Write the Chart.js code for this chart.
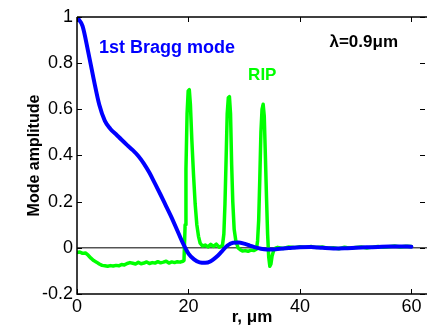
<!DOCTYPE html>
<html>
<head>
<meta charset="utf-8">
<script src="https://cdn.jsdelivr.net/npm/chart.js@4"></script>
<style>
body{margin:0;background:#fff;}
</style>
</head>
<body>
<canvas id="chart" width="427" height="326"></canvas>
<script>
// 1st Bragg mode (blue)
const braggR = [0, 1, 2, 3, 4, 5, 6, 7, 8, 9, 10, 11, 12, 13, 14, 15, 16, 17, 18, 19, 20, 21, 22, 23, 24, 25, 26, 27, 28, 29, 30, 31, 32, 33, 34, 35, 36, 38, 40, 42, 44, 46, 48, 50, 52, 54, 56, 58, 60];
const braggAmp = [1.0, 0.96, 0.85, 0.73, 0.62, 0.55, 0.515, 0.492, 0.468, 0.445, 0.423, 0.398, 0.365, 0.325, 0.278, 0.23, 0.18, 0.13, 0.075, 0.02, -0.025, -0.05, -0.063, -0.065, -0.058, -0.04, -0.015, 0.01, 0.022, 0.023, 0.018, 0.01, 0.002, -0.004, -0.007, -0.007, -0.005, -0.001, 0.003, 0.004, 0.0, -0.003, -0.002, 0.0, 0.002, 0.004, 0.006, 0.006, 0.005];

// RIP (green)
const ripR = [0, 0.5, 1, 1.5, 2, 2.5, 3, 3.5, 4, 4.5, 5, 5.5, 6, 6.5, 7, 7.5, 8, 8.5, 9, 9.5, 10, 10.5, 11, 11.5, 12, 12.5, 13, 13.5, 14, 14.5, 15, 15.5, 16, 16.5, 17, 17.5, 18, 18.5, 19, 19.2,
  19.4, 19.55, 19.75, 19.95, 20.15, 20.35, 20.6, 20.9, 21.2, 21.5, 21.8, 22.1, 22.5, 23, 23.5, 24, 24.5, 25, 25.5, 26.1,
  26.35, 26.55, 26.75, 26.95, 27.15, 27.35, 27.55, 27.75, 27.95, 28.2, 28.5, 28.9, 29.3, 29.7, 30.2, 30.7, 31.2, 31.7, 32.2,
  32.4, 32.6, 32.8, 33.0, 33.2, 33.4, 33.6, 33.8, 34.0, 34.2, 34.4, 34.6, 34.8, 35.0, 35.3, 35.7,
  36, 37, 38, 39, 40, 41, 42, 43, 44, 45, 46, 47, 48, 49, 50, 51, 52, 53, 54, 55, 56, 57, 58, 59, 60];
const ripAmp = [-0.020, -0.018, -0.024, -0.022, -0.032, -0.045, -0.055, -0.062, -0.070, -0.076, -0.078, -0.080, -0.077, -0.079, -0.076, -0.078, -0.072, -0.074, -0.068, -0.064, -0.067, -0.070, -0.063, -0.069, -0.066, -0.061, -0.068, -0.064, -0.066, -0.060, -0.065, -0.062, -0.058, -0.066, -0.061, -0.064, -0.060, -0.062, -0.058, -0.055,
  0.10, 0.34, 0.58, 0.68, 0.685, 0.62, 0.47, 0.32, 0.19, 0.10, 0.05, 0.02, 0.008, 0.012, 0.004, 0.015, 0.006, 0.016, 0.003, 0.01,
  0.06, 0.19, 0.38, 0.58, 0.65, 0.655, 0.58, 0.36, 0.2, 0.08, 0.03, 0.0, -0.008, -0.014, -0.012, -0.015, -0.010, -0.012, -0.006,
  0.03, 0.12, 0.3, 0.5, 0.6, 0.622, 0.57, 0.4, 0.22, 0.06, -0.04, -0.08, -0.07, -0.035, -0.01, 0.0,
  0.002, -0.003, 0.004, 0.001, 0.005, 0.002, 0.006, 0.001, 0.004, -0.002, 0.0, -0.004, 0.003, -0.002, 0.001, 0.004, -0.001, 0.003, 0.006, 0.002, 0.005, 0.008, 0.004, 0.007, 0.006];

// zero reference line
const zeroR = [0, 62.8];
const zeroAmp = [0, 0];

const xTicks = [0, 20, 40, 60];
const yTicks = [-0.2, 0, 0.2, 0.4, 0.6, 0.8, 1];
const xMax = 62.8;

const FONT = '"Liberation Sans", Arial, Helvetica, sans-serif';

function pts(xs, ys){
	return xs.map((x, i) => ({x: x, y: ys[i]}));
}

// box, inward ticks and text labels, MATLAB style
const frame = {
	id: 'frame',
	afterDatasetsDraw(chart){
		const ctx = chart.ctx;
		const a = chart.chartArea;
		const sx = chart.scales.x;
		const sy = chart.scales.y;
		const tl = 5;
		ctx.save();
		ctx.strokeStyle = '#000';
		ctx.lineWidth = 1.5;
		ctx.beginPath();
		ctx.moveTo(a.left, a.top);
		ctx.lineTo(a.right, a.top);
		ctx.moveTo(a.left, a.top);
		ctx.lineTo(a.left, a.bottom);
		ctx.lineTo(a.right, a.bottom);
		ctx.stroke();
		ctx.lineWidth = 1;
		ctx.beginPath();
		xTicks.forEach((v) =>{
			const px = Math.round(sx.getPixelForValue(v)) + 0.5;
			ctx.moveTo(px, a.bottom);
			ctx.lineTo(px, a.bottom - tl);
			ctx.moveTo(px, a.top);
			ctx.lineTo(px, a.top + tl);
		});
		yTicks.forEach((v) =>{
			const py = Math.round(sy.getPixelForValue(v)) + 0.5;
			ctx.moveTo(a.left, py);
			ctx.lineTo(a.left + tl, py);
			ctx.moveTo(a.right - 2, py);
			ctx.lineTo(a.right - 2 - tl, py);
		});
		ctx.stroke();

		ctx.textBaseline = 'middle';
		ctx.textAlign = 'left';
		ctx.font = 'bold 18px ' + FONT;
		ctx.fillStyle = '#0000ff';
		ctx.fillText('1st Bragg mode', sx.getPixelForValue(3.95), sy.getPixelForValue(0.866));
		ctx.font = 'bold 17px ' + FONT;
		ctx.fillStyle = '#00ff00';
		ctx.fillText('RIP', sx.getPixelForValue(30.7), sy.getPixelForValue(0.749));
		ctx.fillStyle = '#000';
		ctx.fillText('λ=0.9μm', sx.getPixelForValue(45.3), sy.getPixelForValue(0.892));
		ctx.restore();
	}
};

new Chart(document.getElementById('chart'), {
	type: 'line',
	data: {
		datasets: [{
			label: '1st Bragg mode',
			data: pts(braggR, braggAmp),
			borderColor: '#0000ff',
			borderWidth: 4,
			borderJoinStyle: 'round',
			borderCapStyle: 'round',
			pointRadius: 0,
			cubicInterpolationMode: 'monotone',
			order: 0
		}, {
			label: 'RIP',
			data: pts(ripR, ripAmp),
			borderColor: '#00ff00',
			borderWidth: 3.5,
			borderJoinStyle: 'round',
			borderCapStyle: 'round',
			pointRadius: 0,
			tension: 0,
			order: 1
		}, {
			label: 'zero',
			data: pts(zeroR, zeroAmp),
			borderColor: '#000',
			borderWidth: 1,
			pointRadius: 0,
			order: 2
		}]
	},
	options: {
		responsive: false,
		animation: false,
		devicePixelRatio: 1,
		layout: {padding: {top: 17, right: 0, left: 0, bottom: 0}},
		plugins: {legend: {display: false}, tooltip: {enabled: false}},
		scales: {
			x: {
				type: 'linear',
				min: 0,
				max: xMax,
				grid: {display: false, drawTicks: false},
				border: {display: false},
				afterBuildTicks: (s) =>{ s.ticks = xTicks.map((v) => ({value: v})); },
				afterFit: (s) =>{ s.height = 32; },
				ticks: {
					color: '#000',
					padding: 2,
					maxRotation: 0,
					font: {family: FONT, size: 18},
					callback: (v) => String(v)
				},
				title: {
					display: true,
					text: 'r, μm',
					color: '#000',
					padding: {top: 0, bottom: 0},
					font: {family: FONT, size: 17, weight: 'bold', lineHeight: 1}
				}
			},
			y: {
				type: 'linear',
				min: -0.2,
				max: 1,
				grid: {display: false, drawTicks: false},
				border: {display: false},
				afterBuildTicks: (s) =>{ s.ticks = yTicks.map((v) => ({value: v})); },
				afterFit: (s) =>{ s.width = 77; },
				ticks: {
					color: '#000',
					padding: 4,
					font: {family: FONT, size: 18},
					callback: (v) => String(Math.round(v * 10) / 10)
				},
				title: {
					display: true,
					text: 'Mode amplitude',
					color: '#000',
					padding: {top: 25, bottom: 0},
					font: {family: FONT, size: 16, weight: 'bold'}
				}
			}
		}
	},
	plugins: [frame]
});
</script>
</body>
</html>
